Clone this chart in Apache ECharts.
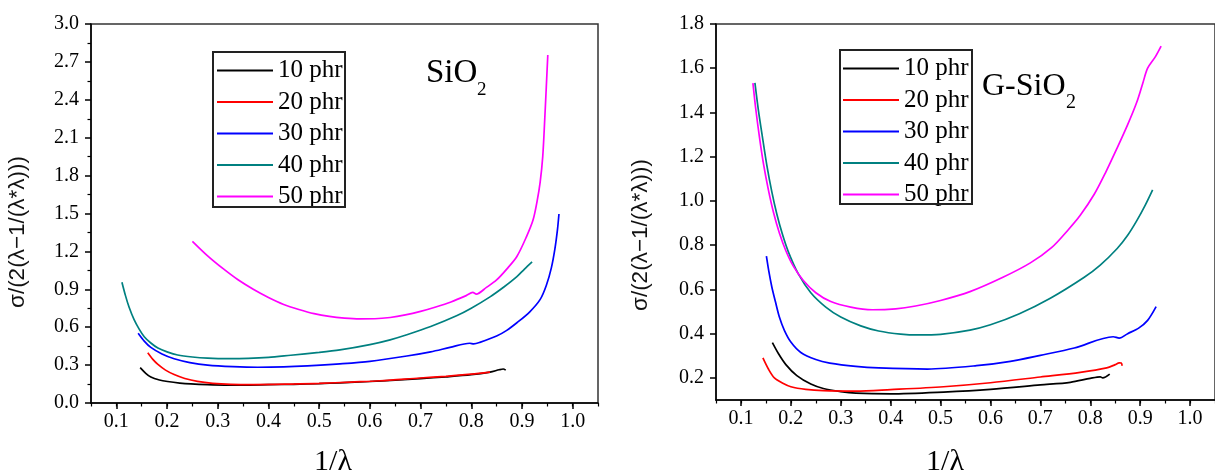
<!DOCTYPE html>
<html>
<head>
<meta charset="utf-8">
<script src="https://cdn.jsdelivr.net/npm/echarts@6/dist/echarts.min.js"></script>
<style>
html,body{margin:0;padding:0;background:#fff;}
#c{width:1215px;height:474px;}
</style>
</head>
<body>
<div id="c"></div>
<script>
// ---------- data ----------
const seriesNames = ['10 phr', '20 phr', '30 phr', '40 phr', '50 phr'];
const seriesColors = ['#000000', '#ff0000', '#0000ff', '#008080', '#ff00ff'];
const xTickLabels = [0.1, 0.2, 0.3, 0.4, 0.5, 0.6, 0.7, 0.8, 0.9, 1.0];
const yTickLabelsLeft = [0.0, 0.3, 0.6, 0.9, 1.2, 1.5, 1.8, 2.1, 2.4, 2.7, 3.0];
const yTickLabelsRight = [0.2, 0.4, 0.6, 0.8, 1.0, 1.2, 1.4, 1.6, 1.8];
const panelTitles = ['SiO', 'G-SiO'];

// SiO2 panel
const sio2_10 = [[0.147,0.28],[0.158,0.235],[0.168,0.205],[0.185,0.182],[0.201,0.17],[0.225,0.158],[0.247,0.151],[0.28,0.145],[0.313,0.142],[0.35,0.142],[0.4,0.145],[0.45,0.148],[0.5,0.153],[0.541,0.16],[0.6,0.17],[0.65,0.18],[0.7,0.193],[0.75,0.207],[0.8,0.224],[0.837,0.245],[0.855,0.263],[0.863,0.269],[0.868,0.26]];
const sio2_20 = [[0.162,0.398],[0.172,0.345],[0.182,0.305],[0.197,0.26],[0.214,0.225],[0.235,0.194],[0.26,0.171],[0.29,0.156],[0.326,0.148],[0.37,0.146],[0.444,0.15],[0.5,0.155],[0.563,0.166],[0.62,0.176],[0.699,0.198],[0.75,0.211],[0.8,0.228],[0.837,0.245]];
const sio2_30 = [[0.143,0.552],[0.155,0.49],[0.168,0.44],[0.19,0.388],[0.214,0.35],[0.245,0.32],[0.28,0.30],[0.33,0.288],[0.379,0.283],[0.43,0.286],[0.477,0.294],[0.541,0.31],[0.6,0.33],[0.673,0.372],[0.72,0.405],[0.758,0.44],[0.797,0.473],[0.805,0.468],[0.817,0.48],[0.85,0.53],[0.87,0.575],[0.89,0.635],[0.915,0.72],[0.936,0.82],[0.948,0.93],[0.958,1.07],[0.965,1.22],[0.97,1.37],[0.973,1.496]];
const sio2_40 = [[0.111,0.956],[0.118,0.85],[0.125,0.76],[0.135,0.66],[0.145,0.585],[0.155,0.525],[0.168,0.475],[0.182,0.435],[0.2,0.405],[0.221,0.38],[0.25,0.364],[0.28,0.355],[0.32,0.351],[0.36,0.353],[0.4,0.361],[0.444,0.378],[0.5,0.40],[0.541,0.42],[0.6,0.462],[0.64,0.5],[0.673,0.54],[0.72,0.605],[0.771,0.69],[0.8,0.75],[0.837,0.84],[0.865,0.92],[0.89,1.0],[0.905,1.06],[0.92,1.117]];
const sio2_50 = [[0.25,1.28],[0.28,1.165],[0.31,1.065],[0.34,0.975],[0.37,0.9],[0.4,0.835],[0.43,0.78],[0.46,0.74],[0.49,0.707],[0.52,0.685],[0.55,0.672],[0.58,0.666],[0.61,0.667],[0.64,0.677],[0.67,0.697],[0.7,0.725],[0.73,0.76],[0.76,0.8],[0.79,0.85],[0.803,0.875],[0.81,0.862],[0.83,0.915],[0.85,0.974],[0.87,1.06],[0.89,1.16],[0.909,1.317],[0.922,1.45],[0.93,1.6],[0.936,1.75],[0.941,1.95],[0.945,2.25],[0.948,2.5],[0.951,2.755]];

// G-SiO2 panel
const gsio2_10 = [[0.163,0.359],[0.175,0.31],[0.19,0.26],[0.212,0.21],[0.24,0.172],[0.265,0.152],[0.3,0.138],[0.33,0.131],[0.4,0.128],[0.506,0.136],[0.6,0.148],[0.7,0.168],[0.76,0.18],[0.8,0.198],[0.82,0.205],[0.825,0.2],[0.839,0.217]];
const gsio2_20 = [[0.144,0.29],[0.155,0.24],[0.167,0.2],[0.185,0.175],[0.2,0.16],[0.23,0.148],[0.265,0.142],[0.33,0.14],[0.4,0.147],[0.506,0.16],[0.6,0.178],[0.7,0.204],[0.78,0.225],[0.833,0.245],[0.85,0.26],[0.858,0.268],[0.862,0.267],[0.864,0.255]];
const gsio2_30 = [[0.151,0.75],[0.156,0.68],[0.162,0.61],[0.169,0.545],[0.177,0.475],[0.187,0.415],[0.2,0.362],[0.22,0.315],[0.25,0.283],[0.278,0.267],[0.33,0.252],[0.376,0.245],[0.474,0.24],[0.572,0.255],[0.64,0.275],[0.7,0.302],[0.768,0.335],[0.846,0.386],[0.858,0.38],[0.875,0.4],[0.897,0.425],[0.915,0.46],[0.932,0.522]];
const gsio2_40 = [[0.128,1.534],[0.135,1.41],[0.143,1.29],[0.152,1.16],[0.162,1.04],[0.172,0.94],[0.183,0.85],[0.195,0.77],[0.215,0.67],[0.24,0.585],[0.27,0.52],[0.3,0.475],[0.34,0.435],[0.376,0.412],[0.42,0.398],[0.455,0.394],[0.5,0.397],[0.559,0.416],[0.6,0.44],[0.658,0.49],[0.72,0.56],[0.788,0.655],[0.82,0.71],[0.854,0.785],[0.875,0.845],[0.893,0.91],[0.91,0.98],[0.925,1.05]];
const gsio2_50 = [[0.124,1.533],[0.13,1.41],[0.137,1.29],[0.145,1.17],[0.155,1.05],[0.165,0.95],[0.177,0.855],[0.19,0.775],[0.205,0.705],[0.225,0.64],[0.25,0.585],[0.28,0.545],[0.32,0.52],[0.363,0.508],[0.41,0.512],[0.45,0.525],[0.5,0.55],[0.559,0.59],[0.625,0.655],[0.68,0.72],[0.723,0.79],[0.756,0.87],[0.78,0.935],[0.808,1.03],[0.83,1.125],[0.854,1.24],[0.875,1.345],[0.893,1.445],[0.905,1.53],[0.915,1.60],[0.93,1.65],[0.942,1.70]];

const leftData = [sio2_10, sio2_20, sio2_30, sio2_40, sio2_50];
const rightData = [gsio2_10, gsio2_20, gsio2_30, gsio2_40, gsio2_50];

// ---------- chart ----------
const SERIF = '"Liberation Serif", "Times New Roman", serif';
const SANS = '"Liberation Sans", Arial, sans-serif';
const chart = echarts.init(document.getElementById('c'), null, {renderer: 'canvas'});

const axisLine = {show: true, lineStyle: {color: '#000', width: 1.5}};
const labelStyle = {color: '#000', fontFamily: SERIF, fontSize: 20};
const fmt1 = v => Number(v).toFixed(1);

function majorX(grid) {
  return {
    type: 'value', gridIndex: grid, min: 0.05, max: 1.05, position: 'bottom',
    axisLine: axisLine,
    axisTick: {show: true, inside: false, length: 6, customValues: xTickLabels, lineStyle: {color: '#000', width: 1.5}},
    axisLabel: Object.assign({show: true, margin: 9, customValues: xTickLabels, formatter: fmt1}, labelStyle),
    splitLine: {show: false}
  };
}
function minorX(grid) {
  return {
    type: 'value', gridIndex: grid, min: 0.05, max: 1.05, interval: 0.05, position: 'bottom',
    axisLine: {show: false},
    axisTick: {show: true, inside: false, length: 3.5, lineStyle: {color: '#000', width: 1.2}},
    axisLabel: {show: false}, splitLine: {show: false}
  };
}
function legendAt(left, top) {
  return {
    data: seriesNames, orient: 'vertical', left: left, top: top, padding: 5,
    icon: 'rect', itemWidth: 56, itemHeight: 2, itemGap: 6.5, itemTextGap: 7,
    textStyle: {fontFamily: SERIF, fontSize: 25, lineHeight: 24, color: '#000'},
    selectedMode: false
  };
}
function txt(text, x, y, size, family, align) {
  return {type: 'text', z: 100, style: {text: text, x: x, y: y, font: size + 'px ' + family, fill: '#000',
    textAlign: align || 'left', verticalAlign: 'middle', textVerticalAlign: 'middle'}};
}
function ytitle(x, y) {
  return {type: 'text', x: x, y: y, rotation: Math.PI / 2, z: 100,
    style: {text: 'σ/(2(λ−1/(λ*λ)))', x: 0, y: 0, font: '22.5px ' + SANS, fill: '#111',
      textAlign: 'center', verticalAlign: 'middle', textVerticalAlign: 'middle'}};
}

const option = {
  backgroundColor: '#fff',
  animation: false,
  grid: [
    {left: 91, top: 24, width: 507, height: 379, show: true, borderColor: '#333', borderWidth: 1.5, backgroundColor: 'transparent'},
    {left: 716, top: 24, width: 511, height: 376, show: true, borderColor: '#333', borderWidth: 1.5, backgroundColor: 'transparent'}
  ],
  xAxis: [majorX(0), minorX(0), majorX(1), minorX(1)],
  yAxis: [
    {
      type: 'value', gridIndex: 0, min: 0, max: 3.0, interval: 0.3,
      axisLine: axisLine,
      axisTick: {show: true, length: 6, lineStyle: {color: '#000', width: 1.5}},
      minorTick: {show: true, splitNumber: 2, length: 3.5, lineStyle: {color: '#000', width: 1.2}},
      axisLabel: Object.assign({margin: 12, formatter: fmt1}, labelStyle),
      splitLine: {show: false}
    },
    {
      type: 'value', gridIndex: 1, min: 0.1, max: 1.8,
      axisLine: axisLine,
      axisTick: {show: true, length: 6, customValues: yTickLabelsRight, lineStyle: {color: '#000', width: 1.5}},
      axisLabel: Object.assign({margin: 12, customValues: yTickLabelsRight, formatter: fmt1}, labelStyle),
      splitLine: {show: false}
    },
    {
      type: 'value', gridIndex: 1, min: 0.1, max: 1.8, interval: 0.1,
      axisLine: {show: false},
      axisTick: {show: true, length: 3.5, lineStyle: {color: '#000', width: 1.2}},
      axisLabel: {show: false}, splitLine: {show: false}
    }
  ],
  legend: [legendAt(212, 53), legendAt(838, 51)],
  graphic: [
    {type: 'rect', shape: {x: 213, y: 52, width: 132, height: 155}, style: {fill: 'none', stroke: '#222', lineWidth: 2}, z: 100},
    {type: 'rect', shape: {x: 840, y: 50, width: 132, height: 154}, style: {fill: 'none', stroke: '#222', lineWidth: 2}, z: 100},
    txt(panelTitles[0], 426, 73, 33, SERIF),
    txt('2', 477, 90, 19, SERIF),
    txt(panelTitles[1], 982, 87, 32, SERIF),
    txt('2', 1066, 103, 20, SERIF),
    txt('1/λ', 333, 462, 30, SERIF, 'center'),
    txt('1/λ', 945, 462, 30, SERIF, 'center'),
    ytitle(18, 232),
    ytitle(641, 235)
  ],
  series: []
};

function addSeries(dataList, xIdx, yIdx) {
  dataList.forEach((d, i) => {
    option.series.push({
      name: seriesNames[i], type: 'line', xAxisIndex: xIdx, yAxisIndex: yIdx, data: d,
      symbol: 'none', smooth: 0.3, clip: true,
      lineStyle: {color: seriesColors[i], width: 1.7}, itemStyle: {color: seriesColors[i]}
    });
  });
}
addSeries(leftData, 0, 0);
addSeries(rightData, 2, 1);

chart.setOption(option);
</script>
</body>
</html>
